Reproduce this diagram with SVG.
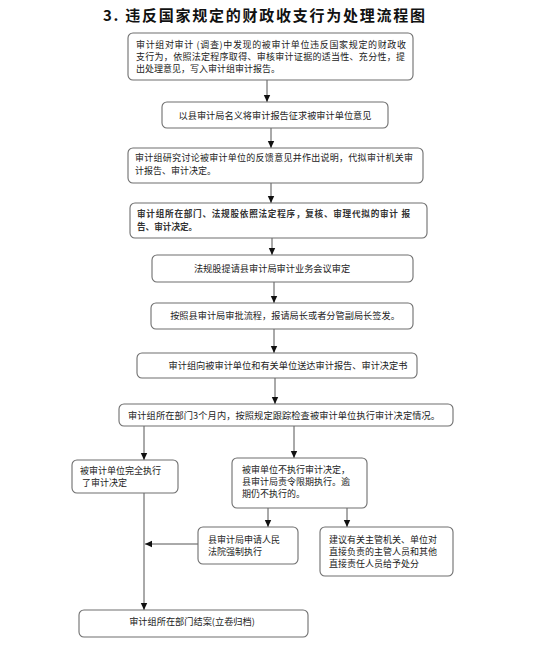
<svg xmlns="http://www.w3.org/2000/svg" width="554" height="652" viewBox="0 0 554 652">
<defs>
<marker id="arr" markerWidth="8" markerHeight="8" refX="7" refY="4" orient="auto" markerUnits="userSpaceOnUse">
<path d="M0,0.8 L7,4 L0,7.2 Z" fill="#111"/>
</marker>
</defs>
<style>
.box{fill:#fff;stroke:#6e6e6e;stroke-width:1.1}
.t{font-family:"Noto Sans CJK SC","Noto Sans",sans-serif;font-size:9.2px;fill:#222}
.s{font-size:9px}
.c{text-anchor:middle}
.b4{font-weight:bold;font-size:8.6px;fill:#333}
.title{font-family:"Noto Sans CJK SC","Noto Sans",sans-serif;font-size:15px;font-weight:bold;fill:#111}
.ln{stroke:#555;stroke-width:1;fill:none}
</style>
<rect width="554" height="652" fill="#fff"/>
<text class="title" x="103" y="21" textLength="322">3. 违反国家规定的财政收支行为处理流程图</text>

<g id="connectors">
<line class="ln" x1="267" y1="80" x2="267" y2="102" marker-end="url(#arr)"/>
<line class="ln" x1="271" y1="128" x2="271" y2="148" marker-end="url(#arr)"/>
<line class="ln" x1="271" y1="183" x2="271" y2="203" marker-end="url(#arr)"/>
<line class="ln" x1="272" y1="238" x2="272" y2="255" marker-end="url(#arr)"/>
<line class="ln" x1="274" y1="282" x2="274" y2="303" marker-end="url(#arr)"/>
<line class="ln" x1="274" y1="329" x2="274" y2="353" marker-end="url(#arr)"/>
<line class="ln" x1="275" y1="378" x2="275" y2="404" marker-end="url(#arr)"/>
<line class="ln" x1="144" y1="426" x2="144" y2="460" marker-end="url(#arr)"/>
<line class="ln" x1="294" y1="426" x2="294" y2="458" marker-end="url(#arr)"/>
<line class="ln" x1="268" y1="508" x2="268" y2="527" marker-end="url(#arr)"/>
<line class="ln" x1="347" y1="508" x2="347" y2="527" marker-end="url(#arr)"/>
<line class="ln" x1="198" y1="544" x2="145" y2="544" marker-end="url(#arr)"/>
<line class="ln" x1="144" y1="493" x2="144" y2="610" marker-end="url(#arr)"/>
</g>

<g id="n1">
<rect class="box" x="128" y="33" width="285" height="47" rx="5"/>
<text class="t s" x="136" y="48" textLength="270">审计组对审计 (调查)中发现的被审计单位违反国家规定的财政收</text>
<text class="t s" x="136" y="60" textLength="269">支行为，依照法定程序取得、审核审计证据的适当性、充分性，提</text>
<text class="t s" x="136" y="72">出处理意见，写入审计组审计报告。</text>
</g>
<g id="n2">
<rect class="box" x="162" y="102" width="226" height="26" rx="5"/>
<text class="t c" x="275" y="118.5">以县审计局名义将审计报告征求被审计单位意见</text>
</g>
<g id="n3">
<rect class="box" x="128" y="148" width="295" height="35" rx="5"/>
<text class="t s" x="135" y="161" textLength="278">审计组研究讨论被审计单位的反馈意见并作出说明，代拟审计机关审</text>
<text class="t s" x="135" y="174">计报告、审计决定。</text>
</g>
<g id="n4">
<rect class="box" x="130" y="203" width="297" height="35" rx="5"/>
<text class="t b4" x="137" y="217" textLength="273">审计组所在部门、法规股依照法定程序，复核、审理代拟的审计  报</text>
<text class="t b4" x="137" y="230">告、审计决定。</text>
</g>
<g id="n5">
<rect class="box" x="152" y="255" width="261" height="27" rx="5"/>
<text class="t c" x="272" y="272">法规股提请县审计局审计业务会议审定</text>
</g>
<g id="n6">
<rect class="box" x="151" y="303" width="262" height="26" rx="5"/>
<text class="t c" x="285" y="319">按照县审计局审批流程，报请局长或者分管副局长签发。</text>
</g>
<g id="n7">
<rect class="box" x="137" y="353" width="280" height="25" rx="5"/>
<text class="t c" x="288" y="368.5">审计组向被审计单位和有关单位送达审计报告、审计决定书</text>
</g>
<g id="n8">
<rect class="box" x="119" y="404" width="334" height="22" rx="5"/>
<text class="t" x="128" y="418.5" textLength="312">审计组所在部门3个月内，按照规定跟踪检查被审计单位执行审计决定情况。</text>
</g>
<g id="n9">
<rect class="box" x="72" y="460" width="106" height="33" rx="5"/>
<text class="t s" x="80" y="474">被审计单位完全执行</text>
<text class="t s" x="82" y="486">了审计决定</text>
</g>
<g id="n10">
<rect class="box" x="232" y="458" width="135" height="50" rx="5"/>
<text class="t s" x="242" y="473">被审单位不执行审计决定，</text>
<text class="t s" x="242" y="485">县审计局责令限期执行。逾</text>
<text class="t s" x="242" y="497">期仍不执行的。</text>
</g>
<g id="n11">
<rect class="box" x="198" y="527" width="100" height="37" rx="5"/>
<text class="t s" x="208" y="543">县审计局申请人民</text>
<text class="t s" x="208" y="555">法院强制执行</text>
</g>
<g id="n12">
<rect class="box" x="320" y="527" width="133" height="49" rx="5"/>
<text class="t s" x="329" y="543">建议有关主管机关、单位对</text>
<text class="t s" x="329" y="555">直接负责的主管人员和其他</text>
<text class="t s" x="329" y="567">直接责任人员给予处分</text>
</g>
<g id="n13">
<rect class="box" x="79" y="610" width="229" height="27" rx="5"/>
<text class="t c" x="192" y="624.5">审计组所在部门结案(立卷归档)</text>
</g>
</svg>
